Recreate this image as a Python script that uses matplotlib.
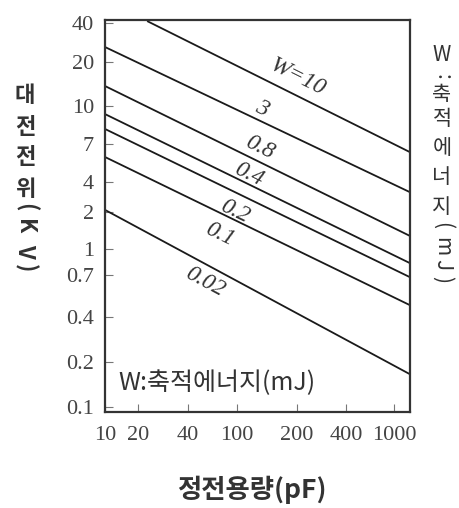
import numpy as np
import matplotlib
matplotlib.use("Agg")
import matplotlib.pyplot as plt
from matplotlib.ticker import NullLocator

# ---- data ----
capacitance_ticks = [10, 20, 40, 100, 200, 400, 1000]          # pF
voltage_ticks = [0.1, 0.2, 0.4, 0.7, 1, 2, 4, 7, 10, 20, 40]   # kV
energy_labels = ["W=10", "3", "0.8", "0.4", "0.2", "0.1", "0.02"]
c_start = [22.7, 10, 10, 10, 10, 10, 10]
v_start = [41.4, 26.1, 13.7, 9.27, 8.06, 5.78, 2.10]
c_end = [1350, 1350, 1350, 1350, 1350, 1350, 1350]
v_end = [6.22, 3.17, 1.28, 0.825, 0.681, 0.469, 0.166]
label_c = [200, 133, 130, 114, 96, 72.8, 55]
label_v = [15.8, 9.8, 6.6, 4.44, 2.0, 1.30, 0.637]

# ---- axis scale layout (the original chart's tick spacing is irregular) ----
x_tick_pos = [0, 33, 83, 132, 192, 241, 289]
x_end_pos = 305
y_tick_pos = [5, 50, 95, 137, 163, 200, 230, 268, 306, 350, 389]
y_end_pos = 392


def piecewise_log(values, positions):
    lv = np.log10(np.asarray(values, float))
    p = np.asarray(positions, float)
    s0 = (p[1] - p[0]) / (lv[1] - lv[0])
    s1 = (p[-1] - p[-2]) / (lv[-1] - lv[-2])

    def fwd(v):
        l = np.log10(np.maximum(np.asarray(v, float), 1e-300))
        out = np.interp(l, lv, p)
        out = np.where(l < lv[0], p[0] + (l - lv[0]) * s0, out)
        out = np.where(l > lv[-1], p[-1] + (l - lv[-1]) * s1, out)
        return out

    def inv(u):
        u = np.asarray(u, float)
        l = np.interp(u, p, lv)
        l = np.where(u < p[0], lv[0] + (u - p[0]) / s0, l)
        l = np.where(u > p[-1], lv[-1] + (u - p[-1]) / s1, l)
        return 10 ** l

    return fwd, inv


fx, ix = piecewise_log(capacitance_ticks, x_tick_pos)
fy, iy = piecewise_log(voltage_ticks, y_tick_pos)

W, H = 459, 508
fig = plt.figure(figsize=(W / 100, H / 100), dpi=100)
ax = fig.add_axes([105 / W, 1 - 412 / H, (410 - 105) / W, (412 - 20) / H])
ax.set_xscale("function", functions=(fx, ix))
ax.set_yscale("function", functions=(fy, iy))
ax.set_xlim(10, float(ix(x_end_pos)))
ax.set_ylim(float(iy(0)), float(iy(y_end_pos)))

line_col = "#1a1a1a"
for cs, vs, ce, ve in zip(c_start, v_start, c_end, v_end):
    ax.plot([cs, ce], [vs, ve], color=line_col, lw=1.3, solid_capstyle="butt")

serif = "Liberation Serif"
for lab, lc, lv, cs, vs, ce, ve in zip(energy_labels, label_c, label_v,
                                       c_start, v_start, c_end, v_end):
    p0 = ax.transData.transform((cs, vs))
    p1 = ax.transData.transform((ce, ve))
    ang = np.degrees(np.arctan2(p1[1] - p0[1], p1[0] - p0[0]))
    ax.text(lc, lv, lab, rotation=ang, rotation_mode="anchor",
            ha="center", va="center", fontsize=17, fontstyle="italic",
            family=serif, color="#333333")

ax.set_xticks(capacitance_ticks)
ax.set_xticklabels([str(t) for t in capacitance_ticks])
ax.set_yticks(voltage_ticks)
ax.set_yticklabels([("%g" % t) for t in voltage_ticks])
ax.xaxis.set_minor_locator(NullLocator())
ax.yaxis.set_minor_locator(NullLocator())
ax.tick_params(direction="in", length=6, width=0.8, color="#777777",
               labelsize=16, labelcolor="#444444")
ax.tick_params(axis="x", pad=10)
ax.tick_params(axis="y", pad=8)
for lab in ax.get_xticklabels() + ax.get_yticklabels():
    lab.set_family(serif)
for sp in ax.spines.values():
    sp.set_linewidth(1.6)
    sp.set_color("#333333")

kr = ["Noto Sans CJK KR", "DejaVu Sans"]

# inside legend text
fig.text(118 / W, 1 - 383 / H, "W:축적에너지(mJ)", ha="left", va="center",
         fontsize=18, family=kr, color="#333333", fontweight="medium")


def put(xp, yp, s, rot=0, size=16, weight="bold"):
    fig.text(xp / W, 1 - yp / H, s, ha="center", va="center", rotation=rot,
             fontsize=size, family=kr, color="#333333", fontweight=weight)


# left vertical label: 대전전위(KV)
for ch, yp in zip(["대", "전", "전", "위"], [96, 127, 158, 189]):
    put(25, yp, ch)
for ch, yp in zip(["(", "K", "V", ")"], [207, 227, 251, 268]):
    put(25, yp, ch, rot=-90)

# right vertical label: W:축적에너지(mJ)
put(442, 55, "W", size=15, weight="medium")
put(442, 77, ":", rot=-90, size=15, weight="medium")
for ch, yp in zip(["축", "적", "에", "너", "지"], [95, 119, 148, 177, 207]):
    put(442, yp, ch, size=15, weight="medium")
for ch, yp in zip(["(", "m", "J", ")"], [225, 247, 265, 280]):
    put(442, yp, ch, rot=-90, size=15, weight="medium")

# x axis title
fig.text(252 / W, 1 - 490 / H, "정전용량(pF)", ha="center", va="center",
         fontsize=19, family=kr, color="#333333", fontweight="bold")

fig.savefig("out.png", dpi=100, facecolor="white")
